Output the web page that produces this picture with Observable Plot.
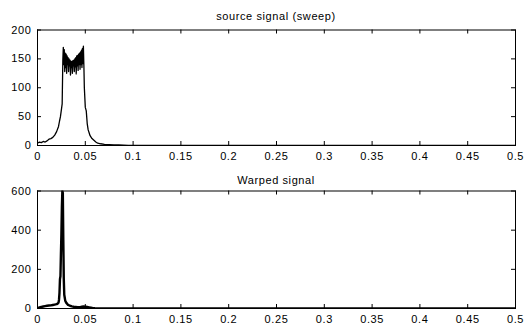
<!DOCTYPE html>
<html>
<head>
<meta charset="utf-8">
<script src="https://cdn.jsdelivr.net/npm/d3@7"></script>
<script src="https://cdn.jsdelivr.net/npm/@observablehq/plot@0.6"></script>
<style>
  html, body { margin: 0; padding: 0; background: #fff; }
  #wrap { position: relative; width: 524px; height: 327px; overflow: hidden; font-family: "Liberation Sans", Arial, Helvetica, sans-serif; }
  .ttl { position: absolute; left: 37px; width: 478px; text-align: center; font-size: 11px; letter-spacing: 0.6px; color: #000; line-height: 12px; }
  .panel { position: absolute; left: 0; }
  svg { overflow: visible; }
</style>
</head>
<body>
<div id="wrap">
  <div class="ttl" id="t1" style="top:10px;">source signal (sweep)</div>
  <div class="ttl" id="t2" style="top:174px;">Warped signal</div>
  <div class="panel" id="p1" style="top:0px;"></div>
  <div class="panel" id="p2" style="top:165px;"></div>
</div>
<script>
// ---- data ----
const titles = ["source signal (sweep)", "Warped signal"];
const xTicks = [0, 0.05, 0.1, 0.15, 0.2, 0.25, 0.3, 0.35, 0.4, 0.45, 0.5];
const xTickLabels = ["0", "0.05", "0.1", "0.15", "0.2", "0.25", "0.3", "0.35", "0.4", "0.45", "0.5"];
const srcYTicks = [0, 50, 100, 150, 200];
const warpYTicks = [0, 200, 400, 600];

const srcX = [0.000, 0.002, 0.004, 0.006, 0.008, 0.010, 0.012, 0.014, 0.016, 0.018, 0.020, 0.022, 0.023, 0.024, 0.025, 0.0258, 0.0265, 0.027,
  0.0275, 0.028, 0.0285, 0.029, 0.0295, 0.030, 0.0305, 0.031, 0.0315, 0.032, 0.0325, 0.033, 0.0335, 0.034, 0.0345, 0.035, 0.0355, 0.036,
  0.0365, 0.037, 0.0375, 0.038, 0.0385, 0.039, 0.0395, 0.040, 0.0405, 0.041, 0.0415, 0.042, 0.0425, 0.043, 0.0435, 0.044, 0.0445, 0.045,
  0.0455, 0.046, 0.0465, 0.047, 0.0475, 0.048, 0.0485, 0.049, 0.050, 0.051, 0.052, 0.053, 0.054, 0.055, 0.057, 0.059, 0.061, 0.063, 0.066,
  0.070, 0.075, 0.080, 0.085, 0.090, 0.095, 0.5];
const srcY = [4, 6, 5, 7, 6, 8, 11, 12, 14, 18, 24, 33, 42, 50, 62, 72, 148, 170,
  140, 166, 128, 160, 135, 158, 125, 155, 140, 152, 128, 150, 138, 148, 122, 146, 135, 145,
  125, 147, 138, 148, 128, 150, 136, 152, 124, 155, 138, 156, 130, 158, 140, 160, 132, 162,
  140, 165, 135, 168, 142, 172, 140, 100, 66, 60, 38, 27, 22, 17, 12, 9, 6, 4, 3,
  2, 1.5, 1, 1, 0.5, 0, 0];

const warpX = [0.000, 0.002, 0.004, 0.006, 0.008, 0.010, 0.012, 0.014, 0.016, 0.018, 0.020, 0.021, 0.022, 0.0225, 0.023, 0.0235, 0.024,
  0.0245, 0.025, 0.0255, 0.026, 0.0265, 0.027, 0.0275, 0.028, 0.029, 0.030, 0.032, 0.034, 0.036, 0.038, 0.040, 0.042, 0.045, 0.048,
  0.050, 0.052, 0.054, 0.056, 0.058, 0.060, 0.065, 0.5];
const warpY = [3, 5, 8, 10, 12, 14, 15, 16, 18, 20, 22, 25, 30, 45, 80, 150, 165,
  280, 380, 520, 600, 590, 350, 150, 70, 40, 30, 18, 14, 11, 9, 8, 7, 8, 10,
  9, 8, 6, 4, 2, 1, 0, 0];

// ---- drawing ----
const FONT = "Liberation Sans, Arial, Helvetica, sans-serif";
const W = 524, ML = 37, MR = 9, TICK = 4;

function panel({xs, ys, yDomain, yTicks, height, mt, mb, sw}) {
  const fh = height - mt - mb;
  const fw = W - ML - MR;
  const data = ys.map((y, i) => ({x: xs[i], y}));
  return Plot.plot({
    width: W, height, marginLeft: ML, marginRight: MR, marginTop: mt, marginBottom: mb,
    style: {fontFamily: FONT, fontSize: "11px", color: "#000", background: "transparent", letterSpacing: "0.6px"},
    x: {domain: [0, 0.5]},
    y: {domain: yDomain},
    marks: [
      Plot.line(data, {x: "x", y: "y", stroke: "#000", strokeWidth: sw, strokeLinejoin: "round", clip: true}),
      Plot.tickX(xTicks, {x: d => d, insetTop: fh - TICK, stroke: "#000"}),
      Plot.tickX(xTicks, {x: d => d, insetBottom: fh - TICK, stroke: "#000"}),
      Plot.tickY(yTicks, {y: d => d, insetRight: fw - TICK, stroke: "#000"}),
      Plot.tickY(yTicks, {y: d => d, insetLeft: fw - TICK, stroke: "#000"}),
      Plot.axisX(xTicks, {tickSize: 0, tickPadding: 7, tickFormat: (d, i) => xTickLabels[i], label: null, fill: "#000"}),
      Plot.axisY(yTicks, {tickSize: 0, tickPadding: 6, label: null, fill: "#000"}),
      Plot.frame({stroke: "#000", strokeWidth: 1})
    ]
  });
}

document.getElementById("t1").textContent = titles[0];
document.getElementById("t2").textContent = titles[1];

document.getElementById("p1").appendChild(panel({
  xs: srcX, ys: srcY, yDomain: [0, 200], yTicks: srcYTicks,
  height: 165, mt: 29.5, mb: 20, sw: 1.3
}));
document.getElementById("p2").appendChild(panel({
  xs: warpX, ys: warpY, yDomain: [0, 600], yTicks: warpYTicks,
  height: 162, mt: 25.5, mb: 19, sw: 2.4
}));
</script>
</body>
</html>
